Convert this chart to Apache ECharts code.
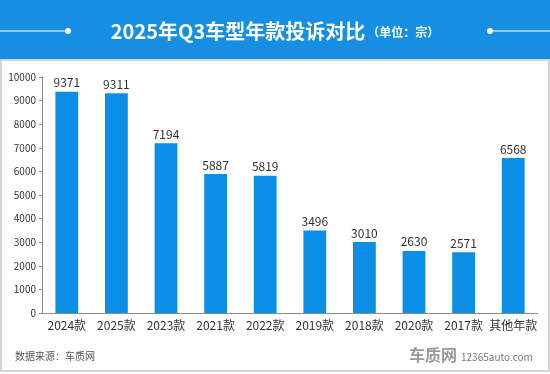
<!DOCTYPE html>
<html>
<head>
<meta charset="utf-8">
<script src="https://cdn.jsdelivr.net/npm/echarts@6/dist/echarts.min.js"></script>
<style>
html,body{margin:0;padding:0;background:#fff;}
#chart{width:550px;height:374px;}
</style>
</head>
<body>
<div id="chart"></div>
<script>
const categories = ['2024款','2025款','2023款','2021款','2022款','2019款','2018款','2020款','2017款','其他年款'];
const complaints = [9371, 9311, 7194, 5887, 5819, 3496, 3010, 2630, 2571, 6568];
const yTicks = [0, 1000, 2000, 3000, 4000, 5000, 6000, 7000, 8000, 9000, 10000];

const FONT = '"Noto Sans CJK SC", "Noto Sans", sans-serif';
const chart = echarts.init(document.getElementById('chart'), null, {renderer: 'canvas'});
chart.setOption({
  backgroundColor: '#ffffff',
  textStyle: {fontFamily: FONT},
  animation: false,
  title: {
    text: '{a|2025年Q3车型年款投诉对比}{b|（单位：宗）}',
    left: 'center',
    top: 13,
    textStyle: {
      rich: {
        a: {fontFamily: FONT, fontSize: 20, fontWeight: 'bold', color: '#ffffff', lineHeight: 26},
        b: {fontFamily: FONT, fontSize: 12, color: '#ffffff', lineHeight: 26, padding: [3, 0, 0, 2]}
      }
    }
  },
  graphic: [
    {type: 'rect', z: -10, shape: {x: 0, y: 0, width: 550, height: 60}, style: {fill: '#168ee2'}},
    {type: 'rect', z: -10, shape: {x: 1, y: 60, width: 548, height: 311}, style: {fill: '#ffffff', stroke: '#d4d4d4', lineWidth: 2}},
    {type: 'line', shape: {x1: 0, y1: 31, x2: 68, y2: 31}, style: {stroke: '#ffffff', lineWidth: 1}},
    {type: 'circle', shape: {cx: 68, cy: 31, r: 3}, style: {fill: '#ffffff'}},
    {type: 'line', shape: {x1: 490, y1: 31, x2: 550, y2: 31}, style: {stroke: '#ffffff', lineWidth: 1}},
    {type: 'circle', shape: {cx: 490, cy: 31, r: 3}, style: {fill: '#ffffff'}},
    {type: 'text', left: 15, top: 351, style: {text: '数据来源：车质网', fontFamily: FONT, fontSize: 10, fill: '#555555'}},
    {type: 'text', left: 409, top: 347, style: {text: '车质网', fontFamily: FONT, fontSize: 16, fontWeight: 'bold', fill: '#999999'}},
    {type: 'text', left: 461, top: 352, style: {text: '12365auto.com', fontFamily: FONT, fontSize: 10, fill: '#777777'}}
  ],
  grid: {left: 42, right: 12, top: 77, bottom: 61, containLabel: false},
  xAxis: {
    type: 'category',
    data: categories,
    axisLine: {lineStyle: {color: '#8c8c8c'}},
    axisTick: {show: false},
    axisLabel: {color: '#333333', fontSize: 12, margin: 6, fontFamily: FONT, interval: 0}
  },
  yAxis: {
    type: 'value',
    min: yTicks[0],
    max: yTicks[yTicks.length - 1],
    interval: 1000,
    axisLine: {show: true, lineStyle: {color: '#8c8c8c'}},
    axisTick: {show: true, length: 3, lineStyle: {color: '#8c8c8c'}},
    splitLine: {show: false},
    axisLabel: {color: '#333333', fontSize: 10, margin: 6, fontFamily: FONT, formatter: function (v) { return String(v); }}
  },
  series: [{
    type: 'bar',
    data: complaints,
    barWidth: '46%',
    itemStyle: {color: '#0b8fe6'},
    label: {show: true, position: 'top', distance: 3, color: '#333333', fontSize: 12, fontFamily: FONT}
  }]
});
</script>
</body>
</html>
